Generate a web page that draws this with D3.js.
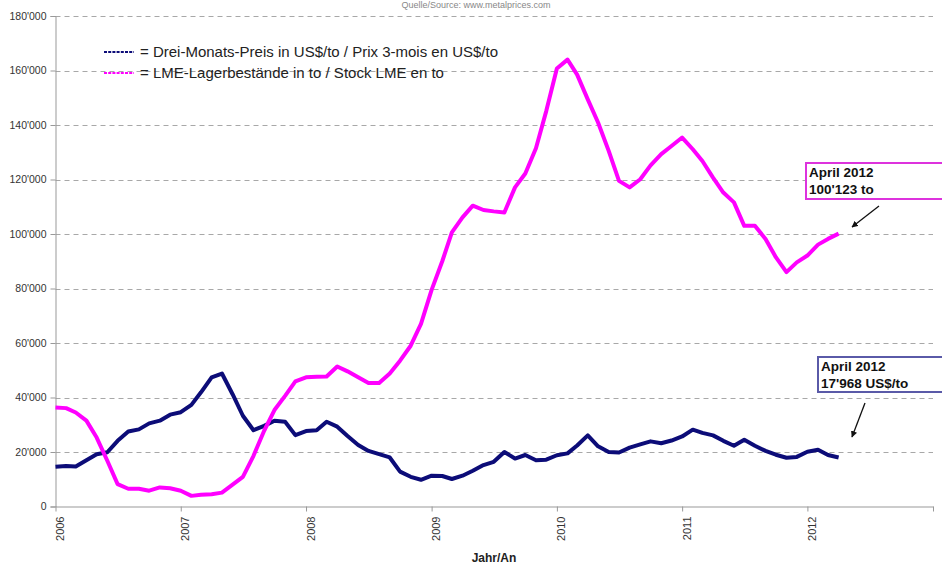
<!DOCTYPE html>
<html><head><meta charset="utf-8">
<script src="https://cdn.jsdelivr.net/npm/d3@7"></script>
<style>body{margin:0;background:#fff}svg{display:block;font-family:"Liberation Sans",Arial,sans-serif}</style>
</head><body><svg id="c" width="942" height="572"></svg>
<script>
// Data: monthly, Jan 2006 .. Apr 2012
const startMonth = "2006-01";
const priceUSD = [14600,14900,14700,17000,19200,19900,24100,27500,28300,30500,31500,33700,
  34600,37300,41900,47400,48800,41200,33300,28000,29600,31500,31100,26200,
  27700,28000,31100,29300,25900,22600,20400,19200,18000,12800,10900,9800,
  11300,11200,10100,11300,13100,15200,16400,20000,17600,18900,17000,17200,
  18800,19500,22400,26100,22100,20000,19800,21600,22800,23900,23200,24200,
  25700,28200,27000,26100,24100,22300,24500,22300,20400,19000,17900,18200,
  20100,20800,18900,17968];
const stockLME = [36350,36100,34500,31500,25300,16800,8200,6500,6500,5800,7000,6700,
  5800,3900,4300,4500,5100,8000,10900,18600,27800,35400,40600,45900,
  47400,47600,47700,51400,49600,47400,45300,45300,48800,53500,59000,67000,
  79500,90000,100600,106100,110400,108800,108300,107900,117100,122200,131500,145100,
  160700,164000,158500,149400,140900,130500,119500,117100,120100,125200,129300,132300,
  135400,131100,126800,120700,115200,111600,103000,103000,98200,91500,86000,89600,
  92100,96100,98200,100123];
const yTicks = [0,20000,40000,60000,80000,100000,120000,140000,160000,180000];
const yearTicks = [2006,2007,2008,2009,2010,2011,2012];
const seriesNames = ["= Drei-Monats-Preis in US$/to / Prix 3-mois en US$/to","= LME-Lagerbestände in to / Stock LME en to"];
const annotations = [
  {series:1, lines:["April 2012","100'123 to"]},
  {series:0, lines:["April 2012","17'968 US$/to"]}
];
const sourceText = "Quelle/Source: www.metalprices.com";
const xTitle = "Jahr/An";

const colors = ["#0c0c78","#ff00ff"];
const svg = d3.select("#c");
const L = 55.5, R = 933, T = 16, B = 506.5;
const parse = d3.timeParse("%Y-%m");
const d0 = parse(startMonth);
const dates = priceUSD.map((_, i) => d3.timeMonth.offset(d0, i));
const x = d3.scaleTime().domain([new Date(2006,0,1), new Date(2013,0,1)]).range([L, R]);
const y = d3.scaleLinear().domain([0,180000]).range([B, T]);
const fmt = v => d3.format(",")(v).replace(/,/g,"'");

// source text
svg.append("text").attr("x",476).attr("y",8).attr("text-anchor","middle")
  .attr("font-size",9).attr("fill","#888").text(sourceText);

// gridlines
svg.append("g").selectAll("line").data(yTicks.filter(v=>v>0)).join("line")
  .attr("x1",L).attr("x2",R).attr("y1",d=>Math.round(y(d))+0.5).attr("y2",d=>Math.round(y(d))+0.5)
  .attr("stroke","#a8a8a8").attr("stroke-width",1).attr("stroke-dasharray","5,4");

// y axis
const ya = svg.append("g").attr("transform",`translate(${L},0)`)
  .call(d3.axisLeft(y).tickValues(yTicks).tickFormat(fmt).tickSize(5).tickPadding(4));
ya.select(".domain").attr("stroke","#999");
ya.selectAll(".tick line").attr("stroke","#999");
ya.selectAll(".tick text").attr("font-size",10.5).attr("fill","#333").attr("font-family","Liberation Sans, Arial, sans-serif");

// x axis
const xa = svg.append("g").attr("transform",`translate(0,${B})`)
  .call(d3.axisBottom(x).tickValues(yearTicks.concat([2013]).map(yr=>new Date(yr,0,1))).tickFormat(d=>yearTicks.includes(d.getFullYear())?d.getFullYear():"").tickSize(5).tickSizeOuter(0));
xa.select(".domain").attr("stroke","#999");
xa.selectAll(".tick line").attr("stroke","#999");
xa.selectAll(".tick text").attr("font-size",11).attr("fill","#333")
  .attr("font-family","Liberation Sans, Arial, sans-serif")
  .attr("text-anchor","end").attr("dy",null)
  .attr("transform","translate(8,10) rotate(-90)").attr("x",0).attr("y",0);

svg.append("text").attr("x",494).attr("y",562).attr("text-anchor","middle")
  .attr("font-size",12).attr("font-weight","bold").attr("fill","#222").text(xTitle);

// lines
const line = d3.line().x((d,i)=>x(dates[i])).y(d=>y(d)).curve(d3.curveLinear);
[priceUSD, stockLME].forEach((s,k)=>{
  svg.append("path").datum(s).attr("d",line).attr("fill","none")
    .attr("stroke",colors[k]).attr("stroke-width",4).attr("stroke-linejoin","round");
});

// legend
const lg = svg.append("g");
seriesNames.forEach((n,k)=>{
  const yy = 52 + k*21;
  lg.append("line").attr("x1",104).attr("x2",134).attr("y1",yy).attr("y2",yy)
    .attr("stroke",colors[k]).attr("stroke-width",2).attr("stroke-dasharray","3,1.2");
  lg.append("text").attr("x",140).attr("y",yy+5).attr("font-size",15).attr("fill","#222").text(n);
});

// annotations
const boxes = [
  {x:806, y:163, h:36, stroke:"#dd33dd", ax1:879, ay1:206, ax2:852, ay2:227},
  {x:818, y:357, h:35, stroke:"#5a5aa8", ax1:865, ay1:403, ax2:852, ay2:437}
];
svg.append("defs").append("marker").attr("id","ah").attr("viewBox","0 0 10 10")
  .attr("refX",9).attr("refY",5).attr("markerWidth",5).attr("markerHeight",5).attr("orient","auto")
  .append("path").attr("d","M0,0L10,5L0,10z").attr("fill","#111");
annotations.forEach((a,k)=>{
  const b = boxes[k];
  svg.append("rect").attr("x",b.x).attr("y",b.y).attr("width",200).attr("height",b.h)
    .attr("fill","#fff").attr("stroke",b.stroke).attr("stroke-width",2);
  a.lines.forEach((t,j)=>{
    svg.append("text").attr("x",b.x+3).attr("y",b.y+14+j*17).attr("font-size",13.5)
      .attr("font-weight","bold").attr("fill","#111").text(t);
  });
  svg.append("line").attr("x1",b.ax1).attr("y1",b.ay1).attr("x2",b.ax2).attr("y2",b.ay2)
    .attr("stroke","#111").attr("stroke-width",1.3).attr("marker-end","url(#ah)");
});
</script></body></html>
